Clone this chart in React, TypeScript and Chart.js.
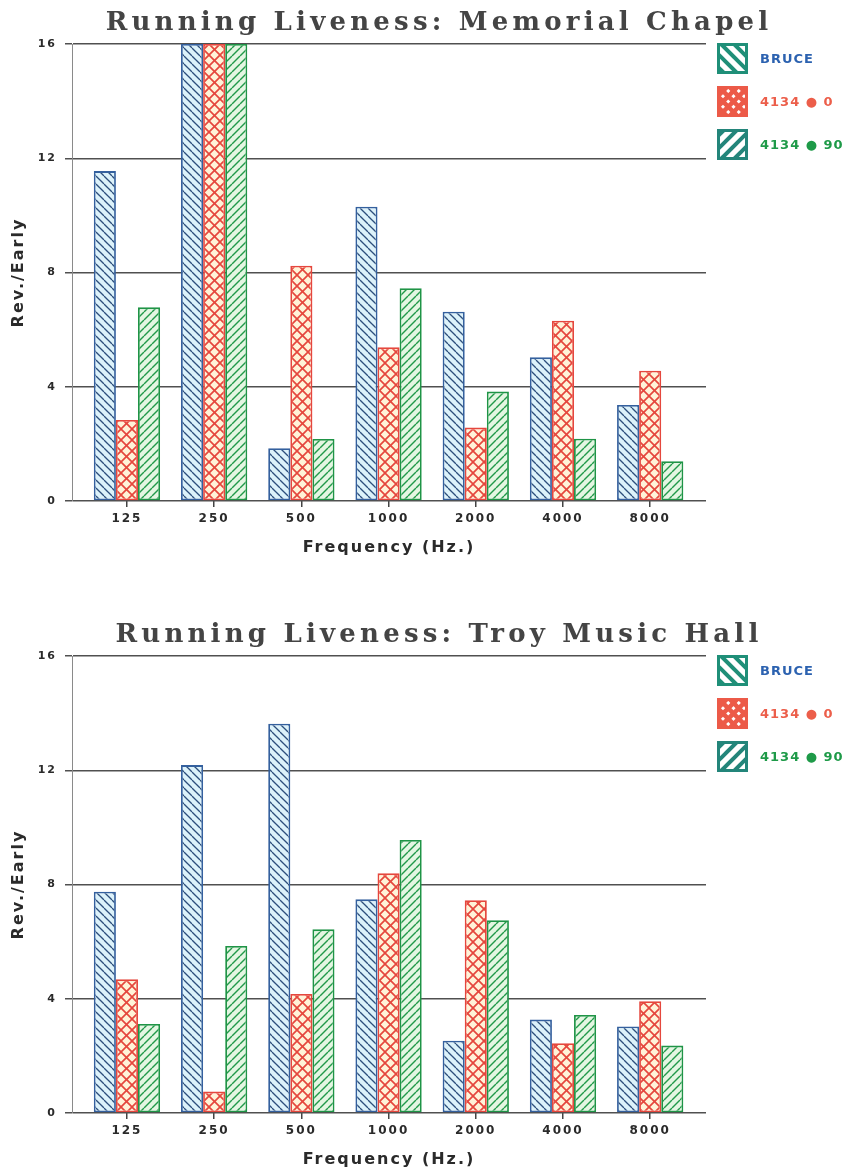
import React, { useEffect, useRef } from 'react';
import { Chart, registerables } from 'chart.js';

Chart.register(...registerables);

// ---------- data ----------
const frequencies = ['125', '250', '500', '1000', '2000', '4000', '8000'];
const seriesNames = ['BRUCE', '4134 ● 0', '4134 ● 90'];

const chapelBruce = [11.55, 16, 1.85, 10.3, 6.63, 5.03, 3.36];
const chapel0 = [2.84, 16, 8.24, 5.38, 2.57, 6.31, 4.56];
const chapel90 = [6.78, 16, 2.17, 7.45, 3.83, 2.18, 1.39];

const troyBruce = [7.75, 12.18, 13.63, 7.48, 2.53, 3.27, 3.03];
const troy0 = [4.68, 0.75, 4.17, 8.39, 7.45, 2.44, 3.91];
const troy90 = [3.12, 5.85, 6.43, 9.56, 6.75, 3.43, 2.36];

const chartTitles = ['Running Liveness: Memorial Chapel', 'Running Liveness: Troy Music Hall'];
const yTickValues = [0, 4, 8, 12, 16];
const xAxisTitle = 'Frequency (Hz.)';
const yAxisTitle = 'Rev./Early';

// ---------- styles ----------
const W = 861;
const H = 557;
const barStyles = [
  { kind: 'back', bg: '#dcf2fa', line: '#2d4f7c', size: 8, lw: 1.3, border: '#34609e' },
  { kind: 'cross', bg: '#fff3d8', line: '#e5473d', size: 11, lw: 1.7, border: '#e5473d' },
  { kind: 'fwd', bg: '#e4f6e2', line: '#22994a', size: 8, lw: 1.4, border: '#1f9446' },
];
const legendStyles = [
  { kind: 'back', fill: '#ffffff', line: '#1f8f78', border: '#1f8f78', text: '#2c62b0' },
  { kind: 'cross', fill: '#ffffff', line: '#ec5a48', border: '#ec5a48', text: '#ec5e4a' },
  { kind: 'fwd', fill: '#ffffff', line: '#23857a', border: '#23857a', text: '#1e9a48' },
];

function makePattern(ctx: CanvasRenderingContext2D, s: any) {
  const tile = document.createElement('canvas');
  tile.width = s.size;
  tile.height = s.size;
  const g = tile.getContext('2d')!;
  g.fillStyle = s.bg;
  g.fillRect(0, 0, s.size, s.size);
  g.strokeStyle = s.line;
  g.lineWidth = s.lw;
  const n = s.size;
  const back = () => {
    for (const k of [-n, 0, n]) {
      g.beginPath();
      g.moveTo(k, 0);
      g.lineTo(k + n, n);
      g.stroke();
    }
  };
  const fwd = () => {
    for (const k of [-n, 0, n]) {
      g.beginPath();
      g.moveTo(k + n, 0);
      g.lineTo(k, n);
      g.stroke();
    }
  };
  if (s.kind === 'back' || s.kind === 'cross') back();
  if (s.kind === 'fwd' || s.kind === 'cross') fwd();
  return ctx.createPattern(tile, 'repeat');
}

function drawLegendIcon(ctx: CanvasRenderingContext2D, x: number, y: number, size: number, st: any) {
  ctx.save();
  ctx.beginPath();
  ctx.rect(x, y, size, size);
  ctx.clip();
  ctx.fillStyle = st.fill;
  ctx.fillRect(x, y, size, size);
  ctx.strokeStyle = st.line;
  ctx.lineWidth = st.kind === 'cross' ? 4.5 : 4;
  const period = st.kind === 'cross' ? 10.5 : 13;
  for (let k = -size * 2; k <= size * 2; k += period) {
    if (st.kind === 'back' || st.kind === 'cross') {
      ctx.beginPath();
      ctx.moveTo(x + k, y);
      ctx.lineTo(x + k + size, y + size);
      ctx.stroke();
    }
    if (st.kind === 'fwd' || st.kind === 'cross') {
      ctx.beginPath();
      ctx.moveTo(x + k + size, y);
      ctx.lineTo(x + k, y + size);
      ctx.stroke();
    }
  }
  ctx.restore();
  ctx.save();
  ctx.strokeStyle = st.border;
  ctx.lineWidth = 3;
  ctx.strokeRect(x + 1.5, y + 1.5, size - 3, size - 3);
  ctx.restore();
}

const decorPlugin = {
  id: 'decor',
  beforeDraw(chart: any) {
    chart.ctx.letterSpacing = '2px';
  },
  afterDraw(chart: any, _args: any, opts: any) {
    const ctx: CanvasRenderingContext2D = chart.ctx;
    const { right, top } = chart.chartArea;
    ctx.save();
    // title
    (ctx as any).letterSpacing = '4.2px';
    ctx.font = 'bold 26px "DejaVu Serif"';
    ctx.fillStyle = '#444444';
    ctx.textAlign = 'center';
    ctx.textBaseline = 'alphabetic';
    ctx.fillText(opts.title, 439, 30);
    // legend
    const boxX = right + 11;
    const size = 31;
    seriesNames.forEach((name, i) => {
      const st = legendStyles[i];
      const by = top - 1 + i * 43;
      drawLegendIcon(ctx, boxX, by, size, st);
      (ctx as any).letterSpacing = '1px';
      ctx.font = 'bold 13px "DejaVu Sans"';
      ctx.fillStyle = st.text;
      ctx.textAlign = 'left';
      ctx.textBaseline = 'middle';
      ctx.fillText(name, boxX + 43, by + size / 2 + 1);
    });
    ctx.restore();
  },
};

function ChartPanel({ title, series, top }: { title: string; series: number[][]; top: number }) {
  const ref = useRef<HTMLCanvasElement | null>(null);
  useEffect(() => {
    const canvas = ref.current!;
    const ctx = canvas.getContext('2d')!;
    const datasets = series.map((vals, si) => ({
      label: seriesNames[si],
      data: vals.map((v, i) => ({ x: i, y: v })),
      backgroundColor: makePattern(ctx, barStyles[si]),
      borderColor: barStyles[si].border,
      borderWidth: 1.8,
      borderSkipped: false,
      categoryPercentage: 0.76,
      barPercentage: 1,
    }));
    const axisFontColor = '#2a2a2a';
    const chart = new Chart(canvas, {
      type: 'bar',
      data: { datasets: datasets as any },
      plugins: [decorPlugin as any],
      options: {
        animation: false,
        responsive: false,
        devicePixelRatio: 1,
        layout: { padding: { top: 44, right: W - 706, left: 0, bottom: 0 } },
        plugins: {
          legend: { display: false },
          tooltip: { enabled: false },
          decor: { title },
        } as any,
        scales: {
          x: {
            type: 'linear',
            offset: false,
            min: -0.63,
            max: 6.64,
            afterBuildTicks: (axis: any) => {
              axis.ticks = frequencies.map((_, i) => ({ value: i }));
            },
            afterFit: (scale: any) => {
              scale.height = H - 501;
            },
            grid: {
              display: true,
              offset: false,
              drawOnChartArea: false,
              drawTicks: true,
              tickLength: 6,
              color: '#444444',
              lineWidth: 1.5,
            },
            border: { display: false },
            ticks: {
              autoSkip: false,
              maxRotation: 0,
              padding: 5,
              color: axisFontColor,
              font: { family: 'DejaVu Sans', weight: 'bold', size: 12 },
              callback: (v: any) => frequencies[v as number] ?? '',
            },
            title: {
              display: true,
              text: xAxisTitle,
              color: axisFontColor,
              font: { family: 'DejaVu Sans', weight: 'bold', size: 16 },
              padding: { top: 0, bottom: 0 },
            },
          },
          y: {
            type: 'linear',
            min: 0,
            max: 16,
            afterBuildTicks: (axis: any) => {
              axis.ticks = yTickValues.map((v) => ({ value: v }));
            },
            afterFit: (scale: any) => {
              scale.width = 72;
            },
            grid: {
              color: '#505050',
              lineWidth: 1.5,
              drawTicks: true,
              tickLength: 7,
            },
            border: { display: true, color: '#8a8a8a', width: 1 },
            ticks: {
              padding: 8,
              color: axisFontColor,
              font: { family: 'DejaVu Sans', weight: 'bold', size: 11 },
            },
            title: {
              display: true,
              text: yAxisTitle,
              color: axisFontColor,
              font: { family: 'DejaVu Sans', weight: 'bold', size: 16 },
              padding: { top: 9, bottom: 0 },
            },
          },
        },
      } as any,
    });
    return () => chart.destroy();
  }, [title, series]);
  return (
    <canvas
      ref={ref}
      width={W}
      height={H}
      style={{ position: 'absolute', left: 0, top, width: W, height: H, display: 'block' }}
    />
  );
}

const chapelSeries = [chapelBruce, chapel0, chapel90];
const troySeries = [troyBruce, troy0, troy90];

export default function App() {
  return (
    <div style={{ position: 'fixed', left: 0, top: 0, width: W, height: 1169, background: '#ffffff', overflow: 'hidden' }}>
      <ChartPanel title={chartTitles[0]} series={chapelSeries} top={0} />
      <ChartPanel title={chartTitles[1]} series={troySeries} top={612} />
    </div>
  );
}
